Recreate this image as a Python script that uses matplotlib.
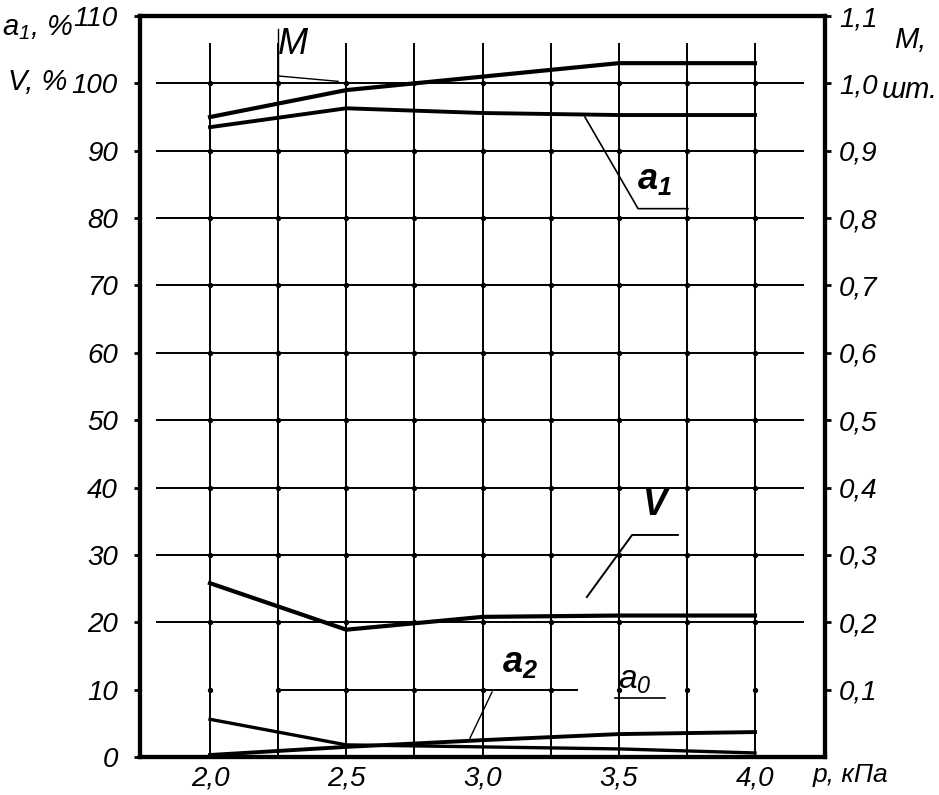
import numpy as np
import matplotlib
matplotlib.use('Agg')
import matplotlib.pyplot as plt

# ---------------------------------------------------------#
# Data                                 #
# ---------------------------------------------------------#
p_kpa  = [2.0, 2.5, 3.0, 3.5, 4.0]
M_sht  = [0.95, 0.99, 1.01, 1.03, 1.03]          # right axis
a1_pct = [93.5, 96.3, 95.6, 95.3, 95.3]
V_pct  = [25.8, 18.9, 20.8, 21.0, 21.0]
a2_pct = [0.3, 1.5, 2.5, 3.4, 3.7]
a0_pct = [5.6, 1.8, 1.5, 1.2, 0.6]

y_ticks      = [0, 10, 20, 30, 40, 50, 60, 70, 80, 90, 100, 110]
y_ticklabels = [str(v) for v in y_ticks]
m_ticks      = [0.1, 0.2, 0.3, 0.4, 0.5, 0.6, 0.7, 0.8, 0.9, 1.0, 1.1]
m_ticklabels = ['0,1', '0,2', '0,3', '0,4', '0,5', '0,6', '0,7', '0,8', '0,9', '1,0', '1,1']
x_ticks      = [2.0, 2.5, 3.0, 3.5, 4.0]
x_ticklabels = ['2,0', '2,5', '3,0', '3,5', '4,0']

W, H = 939, 795
FAM  = ['Liberation Sans', 'DejaVu Sans']
plt.rcParams['mathtext.fontset'] = 'custom'
plt.rcParams['mathtext.rm'] = 'Liberation Sans:italic'
plt.rcParams['mathtext.it'] = 'Liberation Sans:italic'
plt.rcParams['mathtext.bf'] = 'Liberation Sans:italic:bold'

def fnt(size=20, weight='normal'):
    return {'family': FAM, 'style': 'italic', 'size': size,
            'weight': weight, 'color': 'black'}

fig = plt.figure(figsize=(W/100, H/100), dpi=100)
ax  = fig.add_axes([140/W, 1-757/H, (825-140)/W, (757-16)/H])
ax.set_xlim(1.743, 4.257)
ax.set_ylim(0, 110)

# grid (hand drawn look)
gx = np.arange(2.0, 4.01, 0.25)
gy = np.arange(20, 101, 10)
ax.vlines(gx, 0, 106, color='black', lw=1.4, zorder=1)
ax.hlines(gy, 1.80, 4.18, color='black', lw=1.4, zorder=1)
ax.hlines(10, 2.25, 3.35, color='black', lw=1.4, zorder=1)
XX, YY = np.meshgrid(gx, np.arange(10, 101, 10))
ax.scatter(XX.ravel(), YY.ravel(), s=8, color='black', zorder=2)

# curves
ax.plot(p_kpa, a1_pct, color='black', lw=2.8, zorder=3)
ax.plot(p_kpa, V_pct, color='black', lw=3.0, zorder=3)
ax.plot(p_kpa, a2_pct, color='black', lw=2.8, zorder=3)
ax.plot(p_kpa, a0_pct, color='black', lw=2.4, zorder=3)

ax2 = ax.twinx()
ax2.set_ylim(0, 1.1)
ax2.plot(p_kpa, M_sht, color='black', lw=3.0, zorder=3)

# leaders and curve labels
ax.plot([2.25, 2.25], [99.5, 108], color='black', lw=1.0)
ax.plot([2.25, 2.47], [101.1, 100.3], color='black', lw=1.0)
ax.plot([3.376, 3.571, 3.754], [95.0, 81.4, 81.4], color='black', lw=1.2)
ax.plot([3.383, 3.549, 3.717], [23.75, 32.96, 32.96], color='black', lw=1.4)
ax.plot([2.954, 3.035], [2.8, 9.65], color='black', lw=1.0)
ax.plot([3.486, 3.67], [8.76, 8.76], color='black', lw=1.2)

ax.text(2.305, 105.7, 'M', fontdict=fnt(26), ha='center', va='center')
ax.text(3.633, 85.7, r'$\mathbf{a_1}$', fontdict=fnt(26), ha='center', va='center')
ax.text(3.633, 37.4, 'V', fontdict=fnt(26, 'bold'), ha='center', va='center')
ax.text(3.138, 14.1, r'$\mathbf{a_2}$', fontdict=fnt(26), ha='center', va='center')
ax.text(3.56, 11.4, r'$a_0$', fontdict=fnt(24), ha='center', va='center')

# axes styling
for a in (ax, ax2):
    for s in a.spines.values():
        s.set_linewidth(3)
ax.set_xticks(x_ticks)
ax.set_xticklabels(x_ticklabels, fontdict=fnt())
ax.set_yticks(y_ticks)
ax.set_yticklabels(y_ticklabels, fontdict=fnt())
ax.tick_params(axis='x', length=0, pad=6)
ax.tick_params(axis='y', length=4, width=2, pad=12)
ax2.set_yticks(m_ticks)
ax2.set_yticklabels(m_ticklabels, fontdict=fnt())
ax2.tick_params(axis='y', length=4, width=2, pad=6)

# axis titles
fig.text(2/W, 1-28/H, r'$a_1$, %', fontdict=fnt(21), ha='left', va='center')
fig.text(8/W, 1-82/H, 'V, %', fontdict=fnt(21), ha='left', va='center')
fig.text(926/W, 1-40/H, 'M,', fontdict=fnt(21), ha='right', va='center')
fig.text(938/W, 1-90/H, 'шт.', fontdict=fnt(21), ha='right', va='center')
fig.text(850/W, 1-775/H, 'p, кПа', fontdict=fnt(19), ha='center', va='center')

fig.savefig('out.png', dpi=100)
